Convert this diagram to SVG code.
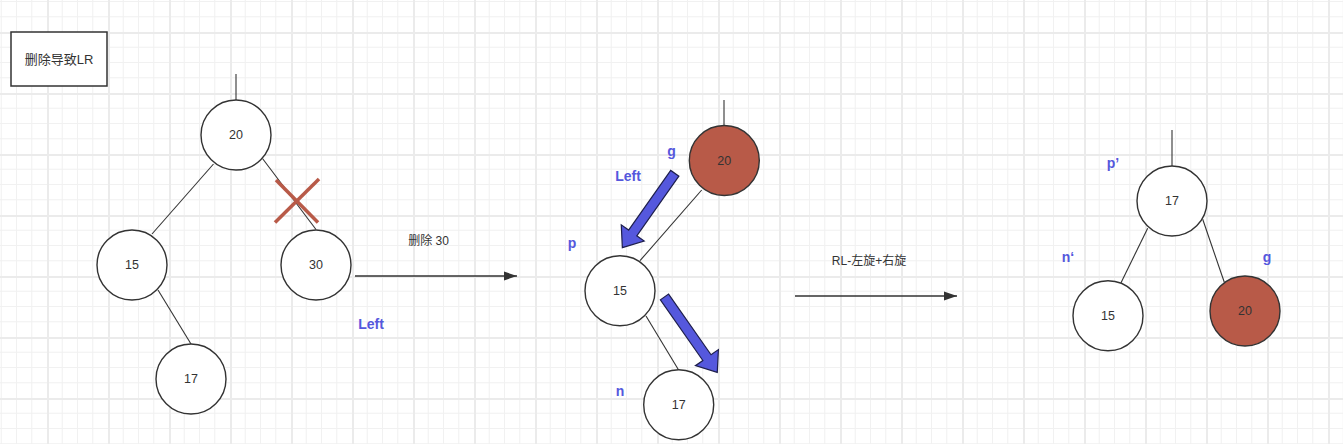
<svg xmlns="http://www.w3.org/2000/svg" width="1343" height="444" viewBox="0 0 1343 444">
  <defs>
    <pattern id="grid" x="47" y="32" width="61" height="61" patternUnits="userSpaceOnUse">
      <rect x="0" y="0" width="61" height="61" fill="#ffffff"/>
      <g fill="#f1f1f1">
        <rect x="14.75" y="0" width="1" height="61"/>
        <rect x="30" y="0" width="1" height="61"/>
        <rect x="45.25" y="0" width="1" height="61"/>
        <rect x="0" y="14.75" width="61" height="1"/>
        <rect x="0" y="30" width="61" height="1"/>
        <rect x="0" y="45.25" width="61" height="1"/>
      </g>
      <g fill="#ebebeb">
        <rect x="0" y="0" width="2" height="61"/>
        <rect x="0" y="0" width="61" height="2"/>
      </g>
    </pattern>
    <marker id="arr" markerWidth="14" markerHeight="10" refX="13" refY="5" orient="auto" markerUnits="userSpaceOnUse">
      <path d="M0,0.5 L13,5 L0,9.5 Z" fill="#333333"/>
    </marker>
  </defs>
  <style>
    .node circle { fill: #ffffff; stroke: #333333; stroke-width: 1.4; }
    .node.red circle { fill: #B85A48; }
    .node text { font-family: "Liberation Sans", Arial, sans-serif; font-size: 12.5px; fill: #333333; text-anchor: middle; dominant-baseline: central; }
    .edge { stroke: #333333; stroke-width: 1.1; fill: none; }
    .flow { stroke: #333333; stroke-width: 1.6; fill: none; marker-end: url(#arr); }
    .lbl { font-family: "Liberation Sans", Arial, "Noto Sans CJK SC", sans-serif; font-size: 12px; fill: #333333; text-anchor: middle; dominant-baseline: central; }
    .title { font-size: 13px; }
    .blue { font-family: "Liberation Sans", Arial, sans-serif; font-size: 14px; font-weight: bold; fill: #5558DD; text-anchor: middle; dominant-baseline: central; }
    .fat { fill: #5558DD; stroke: #1e1f4d; stroke-width: 1.2; stroke-linejoin: miter; }
    .cross { stroke: #B85A48; stroke-width: 3.5; stroke-linecap: butt; }
  </style>

  <rect x="0" y="0" width="1343" height="444" fill="url(#grid)"/>

  <g id="title-box">
    <rect x="11" y="32" width="96" height="54" fill="#ffffff" stroke="#333333" stroke-width="1.5"/>
    <text class="lbl title" x="59" y="59">删除导致LR</text>
  </g>

  <g id="connectors">
    <!-- tree 1 -->
    <line class="edge" x1="236" y1="74" x2="236" y2="100"/>
    <line class="edge" x1="213.5" y1="164" x2="152" y2="234"/>
    <line class="edge" x1="262.5" y1="158.5" x2="316" y2="229.5"/>
    <line class="edge" x1="158" y1="290" x2="191" y2="344"/>
    <!-- tree 2 -->
    <line class="edge" x1="724" y1="100" x2="724" y2="125.5"/>
    <line class="edge" x1="701.7" y1="190" x2="640" y2="260.7"/>
    <line class="edge" x1="646" y1="316" x2="678.3" y2="369.5"/>
    <!-- tree 3 -->
    <line class="edge" x1="1172" y1="130" x2="1172" y2="166"/>
    <line class="edge" x1="1147.7" y1="228.3" x2="1121" y2="282.7"/>
    <line class="edge" x1="1202.7" y1="219.3" x2="1224.3" y2="282.3"/>
    <!-- transitions -->
    <line class="flow" x1="355" y1="276" x2="517" y2="276"/>
    <text class="lbl" x="428.5" y="241">删除 30</text>
    <line class="flow" x1="795" y1="296" x2="957" y2="296"/>
    <text class="lbl" x="869" y="261">RL-左旋+右旋</text>
    <!-- fat blue arrows -->
    <polygon class="fat" transform="translate(674.8,173.3) rotate(125.2)" points="0,-5 73,-5 73,-14 91,0 73,14 73,5 0,5"/>
    <polygon class="fat" transform="translate(664.5,297) rotate(55)" points="0,-5 74,-5 74,-14 92,0 74,14 74,5 0,5"/>
  </g>

  <g id="cross">
    <line class="cross" x1="276" y1="180" x2="318" y2="222.5"/>
    <line class="cross" x1="319" y1="179" x2="275" y2="222.5"/>
  </g>

  <g id="t1-n20" class="node"><circle cx="236" cy="135" r="35"/><text x="236" y="135">20</text></g>
  <g id="t1-n15" class="node"><circle cx="132" cy="265" r="35"/><text x="132" y="265">15</text></g>
  <g id="t1-n30" class="node"><circle cx="316" cy="265" r="35"/><text x="316" y="265">30</text></g>
  <g id="t1-n17" class="node"><circle cx="191" cy="379" r="35"/><text x="191" y="379">17</text></g>

  <g id="t2-n20" class="node red"><circle cx="724.3" cy="160.5" r="35"/><text x="724.3" y="160.5">20</text></g>
  <g id="t2-n15" class="node"><circle cx="620" cy="290.7" r="35"/><text x="620" y="290.7">15</text></g>
  <g id="t2-n17" class="node"><circle cx="678.7" cy="404.7" r="35"/><text x="678.7" y="404.7">17</text></g>

  <g id="t3-n17" class="node"><circle cx="1172" cy="201" r="35"/><text x="1172" y="201">17</text></g>
  <g id="t3-n15" class="node"><circle cx="1108" cy="315.7" r="35"/><text x="1108" y="315.7">15</text></g>
  <g id="t3-n20" class="node red"><circle cx="1245" cy="311" r="35"/><text x="1245" y="311">20</text></g>

  <g id="labels">
    <text class="blue" x="371" y="324">Left</text>
    <text class="blue" x="671.5" y="151">g</text>
    <text class="blue" x="628" y="176">Left</text>
    <text class="blue" x="572" y="243">p</text>
    <text class="blue" x="620" y="391">n</text>
    <text class="blue" x="1113" y="163">p’</text>
    <text class="blue" x="1068" y="257">n‘</text>
    <text class="blue" x="1267" y="257">g</text>
  </g>
</svg>
